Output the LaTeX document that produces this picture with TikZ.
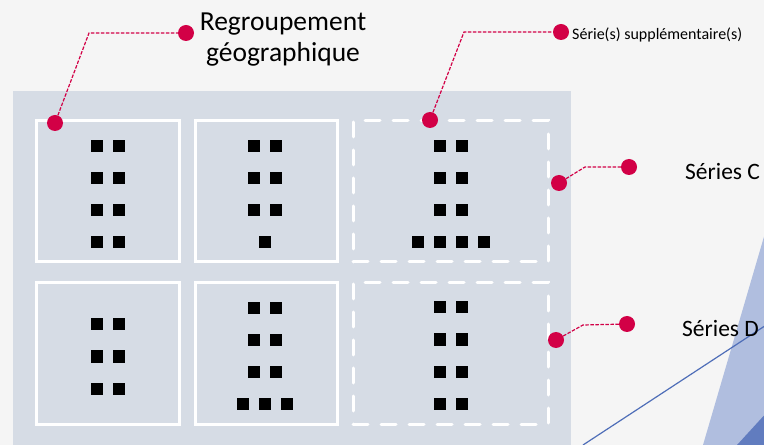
\documentclass[tikz,border=0pt]{standalone}
\usepackage{fontspec}
\setmainfont{Carlito}
\definecolor{c0}{RGB}{210,0,70}
\definecolor{c1}{RGB}{214,220,229}
\definecolor{c2}{RGB}{79,110,184}
\definecolor{c3}{RGB}{245,245,245}
\tikzset{%
  dot/.style={circle,inner sep=0pt,minimum size=16bp,fill=#1},
  dot/.default=c0,
  sq/.style={rectangle,inner sep=0pt,minimum size=12bp,fill=black},
  grp/.style={draw=white,line width=3bp,inner sep=0pt,minimum width=142bp,minimum height=141bp},
  grpx/.style={grp,dash pattern=on 15bp off 13bp,line cap=round,minimum width=195bp},
  callout/.style={draw=c0,line width=1.2bp,dash pattern=on 3.5bp off 1.5bp},
  lbl/.style={inner sep=0pt,text=black}
}

\begin{document}
\begin{tikzpicture}[x=1bp,y=-1bp]
  \useasboundingbox (0,0) rectangle (764,445);
  \fill[c3] (0,0) rectangle (764,445);
  \fill[c1] (13,91) rectangle (571,445);
  % slide decoration
  \begin{scope}
    \clip (0,0) rectangle (764,445);
    \fill[c2!45] (703,445) -- (780,182) -- (780,445) -- cycle;
    \fill[c2!90] (737,445) -- (780,398) -- (780,445) -- cycle;
    \draw[c2,line width=1.2bp] (583,445) -- (780,316);
  \end{scope}
  %%% groups
  \node[grp] (g1) at (108,191.5) {};
  \node[grp] (g2) at (266,191.5) {};
  \node[grpx] (g3) at (450.5,191.5) {};
  \node[grp] (g4) at (108,353.5) {};
  \node[grp] (g5) at (266,353.5) {};
  \node[grpx] (g6) at (450.5,353.5) {};
  %%% series
  \foreach \x in {97,119} \foreach \y in {146,178,210,242}
    \node[sq] (a\x-\y) at (\x,\y) {};
  \foreach \x in {254,276} \foreach \y in {146,178,210}
    \node[sq] (b\x-\y) at (\x,\y) {};
  \node[sq] (b265-242) at (265,242) {};
  \foreach \x in {440,462} \foreach \y in {146,178,210}
    \node[sq] (c\x-\y) at (\x,\y) {};
  \foreach \x in {418,440,462,484}
    \node[sq] (c\x-242) at (\x,242) {};
  \foreach \x in {97,119} \foreach \y in {324.5,356.5,388.5}
    \node[sq] (d\x-\y) at (\x,\y) {};
  \foreach \x in {254,276} \foreach \y in {308,340,372}
    \node[sq] (e\x-\y) at (\x,\y) {};
  \foreach \x in {243,265,287}
    \node[sq] (e\x-404) at (\x,404) {};
  \foreach \x in {439.5,461.5} \foreach \y in {307.5,339.5,371.5,403.5}
    \node[sq] (f\x-\y) at (\x,\y) {};
  %%% callouts
  \coordinate (k1) at (89,33);
  \coordinate (k2) at (464,32);
  \coordinate (k3) at (585,167);
  \coordinate (k4) at (583,325);
  \node[dot] (m1) at (55,123) {};
  \node[dot] (n1) at (186,33) {};
  \node[dot] (m2) at (430,120) {};
  \node[dot] (n2) at (561,32) {};
  \node[dot] (m3) at (559,183) {};
  \node[dot] (n3) at (629,167) {};
  \node[dot] (m4) at (556,340) {};
  \node[dot] (n4) at (627,324) {};
  \draw[callout] (m1)--(k1)--(n1);
  \draw[callout] (m2)--(k2)--(n2);
  \draw[callout] (m3)--(k3)--(n3);
  \draw[callout] (m4)--(k4)--(n4);
  %%% labels
  \node[lbl,anchor=base,align=center,font=\fontsize{27.5bp}{31bp}\selectfont]
    (t1) at (283,62) {Regroupement\\géographique};
  \node[lbl,anchor=base west,font=\fontsize{16bp}{19bp}\selectfont]
    (t2) at (572,40) {Série(s) supplémentaire(s)};
  \node[lbl,anchor=base west,font=\fontsize{23.5bp}{28bp}\selectfont]
    (t3) at (685,180) {Séries C};
  \node[lbl,anchor=base west,font=\fontsize{23.5bp}{28bp}\selectfont]
    (t4) at (682,337) {Séries D};
\end{tikzpicture}
\end{document}
